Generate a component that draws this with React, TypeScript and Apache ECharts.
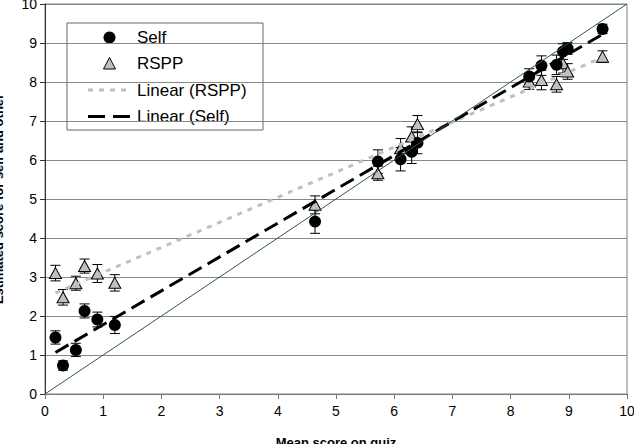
import React, { useEffect, useRef } from "react";
import * as echarts from "echarts";

// Mean quiz score per group (shared x for both series)
const quizScore = [0.18, 0.31, 0.53, 0.68, 0.9, 1.2, 4.64, 5.72, 6.11, 6.3, 6.4, 8.32, 8.53, 8.79, 8.9, 8.98, 9.58];

// Self-estimate and its standard error
const selfScore = [1.45, 0.73, 1.13, 2.13, 1.91, 1.77, 4.42, 5.96, 6.02, 6.21, 6.44, 8.14, 8.42, 8.44, 8.78, 8.86, 9.36];
const selfErr = [0.17, 0.12, 0.17, 0.18, 0.19, 0.22, 0.3, 0.3, 0.3, 0.3, 0.28, 0.2, 0.25, 0.25, 0.2, 0.15, 0.12];

// Estimate for the random same-sex peer (RSPP)
const rsppScore = [3.1, 2.48, 2.84, 3.28, 3.09, 2.85, 4.85, 5.66, 6.3, 6.6, 6.92, 8.01, 8.05, 7.94, 8.48, 8.27, 8.65];
const rsppErr = [0.2, 0.2, 0.18, 0.18, 0.23, 0.21, 0.23, 0.18, 0.25, 0.25, 0.22, 0.2, 0.25, 0.2, 0.25, 0.2, 0.15];

// Identity line (estimate = actual)
const identityLine = [
  [0, 0],
  [10, 10],
];

const axisTicks = [0, 10];
const axisInterval = 1;

// Least-squares fit, returned as two endpoints spanning the data range
function linearFit(xs: number[], ys: number[]): number[][] {
  const n = xs.length;
  const mx = xs.reduce((a, b) => a + b, 0) / n;
  const my = ys.reduce((a, b) => a + b, 0) / n;
  let sxy = 0;
  let sxx = 0;
  for (let i = 0; i < n; i++) {
    sxy += (xs[i] - mx) * (ys[i] - my);
    sxx += (xs[i] - mx) * (xs[i] - mx);
  }
  const slope = sxy / sxx;
  const icpt = my - slope * mx;
  const x0 = Math.min(...xs);
  const x1 = Math.max(...xs);
  return [
    [x0, icpt + slope * x0],
    [x1, icpt + slope * x1],
  ];
}

function errorBars(ys: number[], errs: number[]) {
  return quizScore.map((x, i) => [x, ys[i] - errs[i], ys[i] + errs[i]]);
}

const renderErrorBar = (_params: any, api: any) => {
  const x = api.value(0);
  const top = api.coord([x, api.value(2)]);
  const bot = api.coord([x, api.value(1)]);
  const w = 5;
  const style = { stroke: "#000", lineWidth: 1 };
  return {
    type: "group",
    children: [
      { type: "line", shape: { x1: top[0], y1: top[1], x2: bot[0], y2: bot[1] }, style },
      { type: "line", shape: { x1: top[0] - w, y1: top[1], x2: top[0] + w, y2: top[1] }, style },
      { type: "line", shape: { x1: bot[0] - w, y1: bot[1], x2: bot[0] + w, y2: bot[1] }, style },
    ],
  };
};

const FONT = "'Liberation Sans', Arial, sans-serif";

export default function App() {
  const ref = useRef<HTMLDivElement>(null);

  useEffect(() => {
    if (!ref.current) return;
    const chart = echarts.init(ref.current, undefined, { renderer: "svg" });

    const legendX = 67;
    const legendY = 23;

    chart.setOption({
      animation: false,
      backgroundColor: "#fff",
      textStyle: { fontFamily: FONT },
      grid: {
        left: 45,
        right: 7,
        top: 4,
        bottom: 50,
        show: true,
        borderColor: "#808080",
        borderWidth: 1,
        containLabel: false,
        outerBoundsMode: "none",
      },
      xAxis: {
        type: "value",
        min: axisTicks[0],
        max: axisTicks[1],
        interval: axisInterval,
        splitLine: { show: false },
        axisLine: { lineStyle: { color: "#777", width: 1 } },
        axisTick: { length: 5, lineStyle: { color: "#777" } },
        axisLabel: { color: "#000", fontSize: 14, margin: 10, fontFamily: FONT },
        name: "Mean score on quiz",
        nameLocation: "middle",
        nameGap: 42,
        nameTextStyle: { color: "#000", fontSize: 13, fontWeight: "bold", fontFamily: FONT },
      },
      yAxis: {
        type: "value",
        min: axisTicks[0],
        max: axisTicks[1],
        interval: axisInterval,
        splitLine: { show: true, lineStyle: { color: "#888", width: 1 } },
        axisLine: { show: true, lineStyle: { color: "#333", width: 1 } },
        axisTick: { show: true, length: 5, lineStyle: { color: "#333" } },
        axisLabel: { color: "#000", fontSize: 14, margin: 8, fontFamily: FONT },
        name: "Estimated score for self and other",
        nameLocation: "middle",
        nameGap: 40,
        nameTextStyle: { color: "#000", fontSize: 13, fontWeight: "bold", fontFamily: FONT },
      },
      series: [
        {
          name: "Self error",
          type: "custom",
          renderItem: renderErrorBar,
          data: errorBars(selfScore, selfErr),
          encode: { x: 0, y: [1, 2] },
          z: 2,
        },
        {
          name: "RSPP error",
          type: "custom",
          renderItem: renderErrorBar,
          data: errorBars(rsppScore, rsppErr),
          encode: { x: 0, y: [1, 2] },
          z: 2,
        },
        {
          name: "RSPP",
          type: "scatter",
          symbol: "triangle",
          symbolSize: [12, 11],
          itemStyle: { color: "#c0c0c0", borderColor: "#000", borderWidth: 1, opacity: 1 },
          data: quizScore.map((x, i) => [x, rsppScore[i]]),
          z: 3,
        },
        {
          name: "Self",
          type: "scatter",
          symbol: "circle",
          symbolSize: 12,
          itemStyle: { color: "#000", opacity: 1 },
          data: quizScore.map((x, i) => [x, selfScore[i]]),
          z: 4,
        },
        {
          name: "Linear (RSPP)",
          type: "line",
          showSymbol: false,
          symbol: "none",
          data: linearFit(quizScore, rsppScore),
          lineStyle: { color: "#c0c0c0", width: 3, type: [5, 6] },
          z: 5,
        },
        {
          name: "Linear (Self)",
          type: "line",
          showSymbol: false,
          symbol: "none",
          data: linearFit(quizScore, selfScore),
          lineStyle: { color: "#000", width: 3, type: [15, 7] },
          z: 6,
        },
        {
          name: "Identity",
          type: "line",
          showSymbol: false,
          symbol: "none",
          data: identityLine,
          lineStyle: { color: "#2f5f2f", width: 1 },
          z: 7,
        },
      ],
      graphic: [
        {
          type: "group",
          z: 100,
          children: [
            {
              type: "rect",
              shape: { x: legendX, y: legendY, width: 196, height: 107 },
              style: { fill: "#fff", stroke: "#666", lineWidth: 1 },
            },
            {
              type: "circle",
              shape: { cx: 109.5, cy: 37.5, r: 6 },
              style: { fill: "#000" },
            },
            {
              type: "polygon",
              shape: { points: [[103.5, 69], [115.5, 69], [109.5, 57.5]] },
              style: { fill: "#c0c0c0", stroke: "#000", lineWidth: 1 },
            },
            {
              type: "line",
              shape: { x1: 88, y1: 90, x2: 131, y2: 90 },
              style: { stroke: "#c0c0c0", lineWidth: 3, lineDash: [5, 6] },
            },
            {
              type: "line",
              shape: { x1: 88, y1: 116.5, x2: 131, y2: 116.5 },
              style: { stroke: "#000", lineWidth: 3, lineDash: [17, 8] },
            },
            {
              type: "text",
              x: 137,
              y: 37.5,
              style: { text: "Self", fill: "#000", font: `17px ${FONT}`, verticalAlign: "middle" },
            },
            {
              type: "text",
              x: 137,
              y: 63,
              style: { text: "RSPP", fill: "#000", font: `17px ${FONT}`, verticalAlign: "middle" },
            },
            {
              type: "text",
              x: 137,
              y: 90,
              style: { text: "Linear (RSPP)", fill: "#000", font: `17px ${FONT}`, verticalAlign: "middle" },
            },
            {
              type: "text",
              x: 137,
              y: 116.5,
              style: { text: "Linear (Self)", fill: "#000", font: `17px ${FONT}`, verticalAlign: "middle" },
            },
          ],
        },
      ],
    });

    return () => chart.dispose();
  }, []);

  return (
    <div
      ref={ref}
      style={{ position: "fixed", left: 0, top: 0, width: 634, height: 444 }}
    />
  );
}
